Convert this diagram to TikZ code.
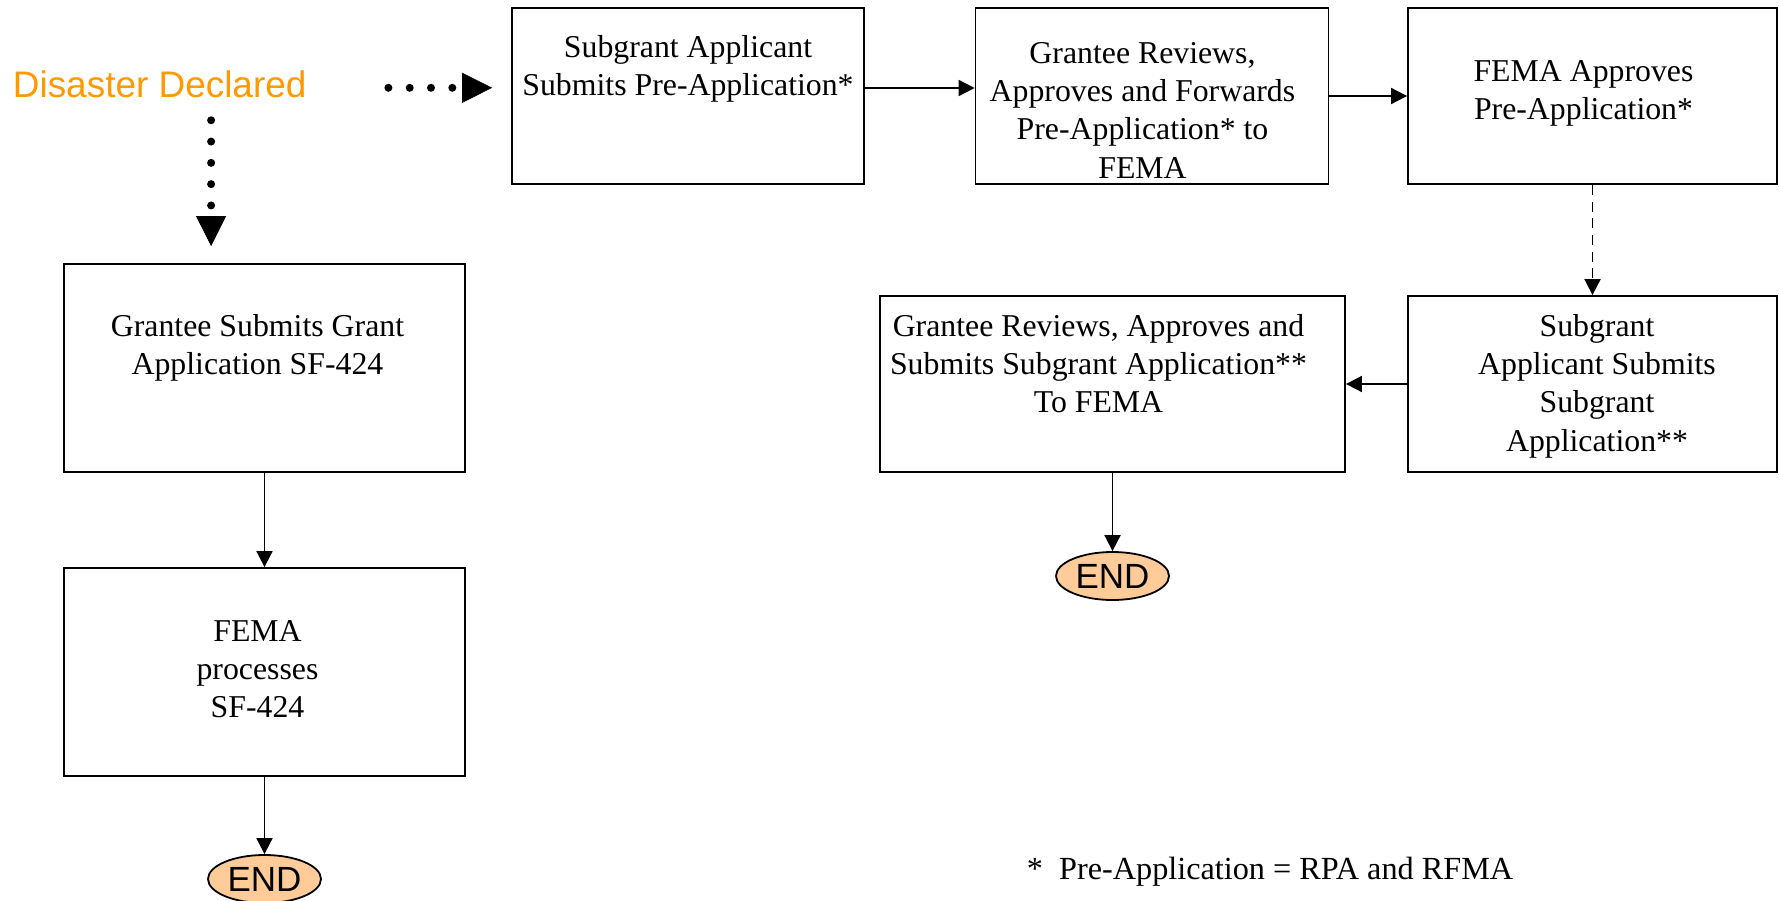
\documentclass[tikz,border=0pt]{standalone}
\usepackage{fontspec}
\setmainfont{Liberation Serif}
\setsansfont{Liberation Sans}
\usepackage{tikz}
\usetikzlibrary{arrows.meta}
\usetikzlibrary{shapes.geometric}

\definecolor{declared}{RGB}{255,153,0}
\definecolor{endfill}{RGB}{255,204,153}
% text sits a bit off centre in some boxes
\newcommand{\nudge}[2]{\leftskip=0pt plus 1fil\rightskip=#1 plus 1fil\relax #2\par}

\begin{document}
\begin{tikzpicture}[->,>={Triangle[length=0.16in,width=0.16in]},
                    line width=1.3pt]
\tikzstyle{box}=[draw,rectangle,align=flush center,inner sep=0pt,
                 font=\fontsize{22.98}{27.8}\selectfont]
\tikzstyle{endnode}=[draw,ellipse,fill=endfill,inner sep=0pt,
                     minimum width=1.13in,minimum height=0.48in,
                     font=\sffamily\fontsize{25.3}{30}\selectfont]
\tikzstyle{dotarrow}=[line width=0.08in,line cap=round,
                      dash pattern=on 0pt off 0.213in,
                      -{Triangle[length=0.30in,width=0.30in,line width=0.5pt]}]
\useasboundingbox (0in,0in) rectangle (17.79in,-9in);
\path
node[anchor=base west,inner sep=0pt,text=declared,
     font=\sffamily\fontsize{26.7}{32}\selectfont] (dis) at (0.12in,-0.97in)
  {Disaster Declared}
(6.88in,-0.96in) node[box,text width=3.52in,text height=0.49in,text depth=1.27in] (sub)
  {Subgrant Applicant\\Submits Pre-Application*}
(sub.center) ++ (4.64in,0in) node[box,text width=3.53in,text height=0.55in,text depth=1.21in] (fwd)
  {\nudge{0.19in}{Grantee Reviews,\\Approves and Forwards\\Pre-Application* to\\FEMA}}
(fwd.center) ++ (4.405in,0in) node[box,text width=3.69in,text height=0.73in,text depth=1.03in] (fema)
  {\nudge{0.18in}{FEMA Approves\\Pre-Application*}}
(fema.center) ++ (0in,-2.88in) node[box,text width=3.69in,text height=0.40in,text depth=1.36in] (subapp)
  {\nudge{-0.09in}{Subgrant\\Applicant Submits\\Subgrant\\Application**}}
(subapp.center) ++ (-4.80in,0in) node[box,text width=4.65in,text height=0.40in,text depth=1.36in] (gsub)
  {\nudge{0.28in}{Grantee Reviews, Approves and\\Submits Subgrant Application**\\To FEMA}}
(gsub.center) ++ (0in,-1.92in) node[endnode] (end2) {END}
(2.645in,-3.68in) node[box,text width=4.01in,text height=0.72in,text depth=1.36in] (grant)
  {\nudge{0.14in}{Grantee Submits Grant\\Application SF-424}}
(grant.center) ++ (0in,-3.04in) node[box,text width=4.01in,text height=0.73in,text depth=1.35in] (proc)
  {\nudge{0.14in}{FEMA\\processes\\SF-424}}
(proc.center) ++ (0in,-2.07in) node[endnode] (end1) {END}
(10.26in,-8.79in) node[anchor=base west,inner sep=0pt,font=\fontsize{23.3}{24.2}\selectfont] (note)
  {*~~Pre-Application = RPA and RFMA};

\path ([yshift=-0.04in]dis.east) coordinate (dright)
      ([xshift=0.514in]dis.south) coordinate (ddown);

\draw[dotarrow,shorten <=0.81in,shorten >=0.19in] (dright) -- (dright -| sub.west);
\draw[dotarrow,shorten <=0.22in,shorten >=0.17in] (ddown) -- (ddown |- grant.north);
\draw ([yshift=0.08in]sub.east) -- ([yshift=0.08in]fwd.west);
\path (fwd) edge (fema)
      (fema) edge[dash pattern=on 0.10in off 0.067in] (subapp)
      (subapp) edge (gsub)
      (gsub) edge (end2)
      (grant) edge (proc)
      (proc) edge (end1);
\end{tikzpicture}
\end{document}
